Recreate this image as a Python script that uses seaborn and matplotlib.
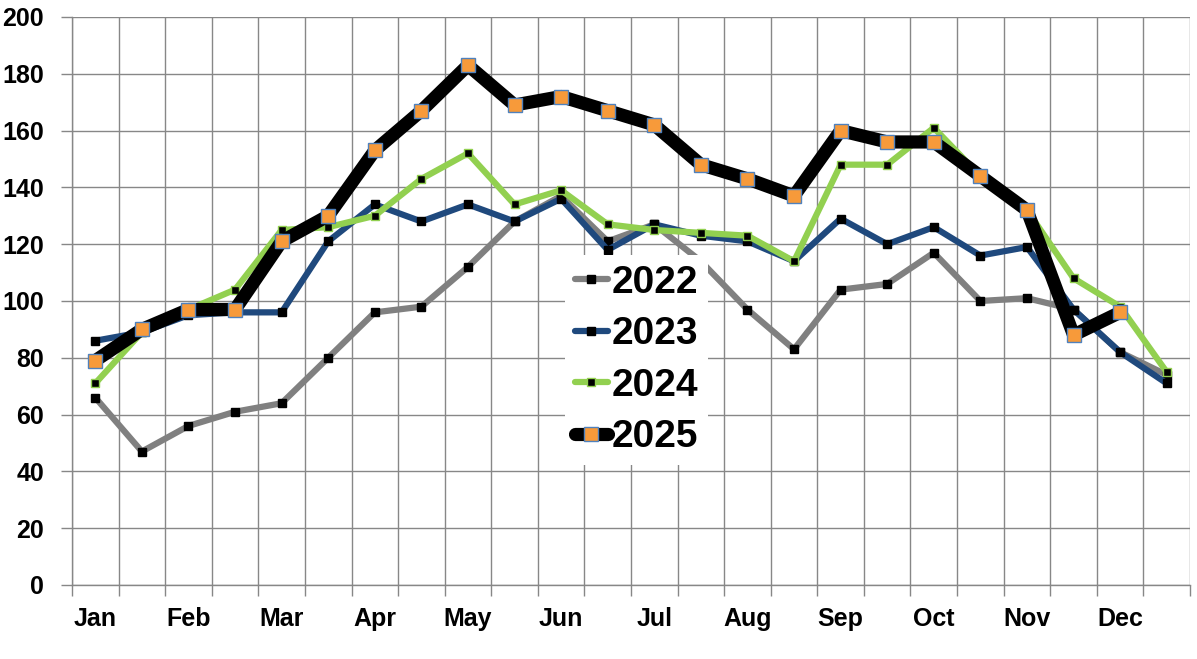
import matplotlib
matplotlib.use("Agg")
import matplotlib.pyplot as plt
import seaborn as sns
import numpy as np
import pandas as pd

months = ["Jan", "Feb", "Mar", "Apr", "May", "Jun", "Jul", "Aug", "Sep", "Oct", "Nov", "Dec"]
periods = list(range(24))

y2022 = [66, 47, 56, 61, 64, 80, 96, 98, 112, 128, 137, 121, 127, 114, 97, 83, 104, 106, 117, 100, 101, 97, 82, 74]
y2023 = [86, 89, 95, 96, 96, 121, 134, 128, 134, 128, 136, 118, 127, 123, 121, 114, 129, 120, 126, 116, 119, 97, 82, 71]
y2024 = [71, 89, 97, 104, 125, 126, 130, 143, 152, 134, 139, 127, 125, 124, 123, 114, 148, 148, 161, 144, 132, 108, 98, 75]
y2025 = [79, 90, 97, 97, 121, 130, 153, 167, 183, 169, 172, 167, 162, 148, 143, 137, 160, 156, 156, 144, 132, 88, 96, np.nan]

sns.set_theme(style="white")
plt.rcParams['font.family'] = ['Liberation Sans', 'DejaVu Sans']
plt.rcParams['text.color'] = 'black'
plt.rcParams['xtick.color'] = 'black'
plt.rcParams['ytick.color'] = 'black'

fig = plt.figure(figsize=(11.97, 6.59), dpi=100)
ax = fig.add_axes([72 / 1197, 1 - 585 / 659, (1190 - 72) / 1197, (585 - 17) / 659])

grid_c = "#878787"

series = [
    ("2022", y2022, "#808080", 4.5, 6, "black", "black"),
    ("2023", y2023, "#1f497d", 4.5, 6, "black", "black"),
    ("2024", y2024, "#92d050", 4.5, 6, "black", "#92d050"),
    ("2025", y2025, "black", 9.5, 10, "#f79a3a", "#4f81bd"),
]

for name, vals, col, lw, ms, mfc, mec in series:
    df = pd.DataFrame({"period": periods, "value": vals})
    sns.lineplot(data=df, x="period", y="value", ax=ax, color=col, linewidth=lw,
                 marker="s", markersize=ms, markerfacecolor=mfc, markeredgecolor=mec,
                 markeredgewidth=1, label=name, solid_capstyle="round", zorder=3)

ax.set_xlim(-0.5, 23.5)
ax.set_ylim(0, 200)
ax.set_xlabel("")
ax.set_ylabel("")

ax.set_xticks(np.arange(-0.5, 24, 1))
ax.set_xticklabels([])
ax.set_xticks(np.arange(0, 24, 2), minor=True)
ax.set_xticklabels(months, minor=True, fontsize=18, fontweight="bold", color="black")
ax.set_yticks(np.arange(0, 201, 20))
ax.set_yticklabels([str(v) for v in range(0, 201, 20)], fontsize=18, fontweight="bold", color="black")

ax.tick_params(axis="x", which="major", length=8, width=1.0, color=grid_c, direction="out", bottom=True)
ax.tick_params(axis="x", which="minor", length=0, pad=16, bottom=True)
ax.tick_params(axis="y", which="major", length=8, width=1.0, color=grid_c, direction="out", left=True, pad=12)

ax.grid(True, which="major", color=grid_c, linewidth=1.0)
ax.set_axisbelow(True)
for s in ax.spines.values():
    s.set_color(grid_c)
    s.set_linewidth(1.0)
ax.spines["top"].set_visible(False)
ax.spines["right"].set_visible(False)

leg = ax.legend(loc="upper left", bbox_to_anchor=(565 / 1197, 1 - 255 / 659),
                bbox_transform=fig.transFigure, fontsize=28, frameon=True,
                fancybox=False, framealpha=1, edgecolor="none", facecolor="white",
                handlelength=0.85, handletextpad=0.1, labelspacing=0.4,
                borderpad=0.25, borderaxespad=0)
for t in leg.get_texts():
    t.set_fontweight("bold")
    t.set_color("black")
leg.set_zorder(5)

fig.savefig("out.png", dpi=100, facecolor="white")
